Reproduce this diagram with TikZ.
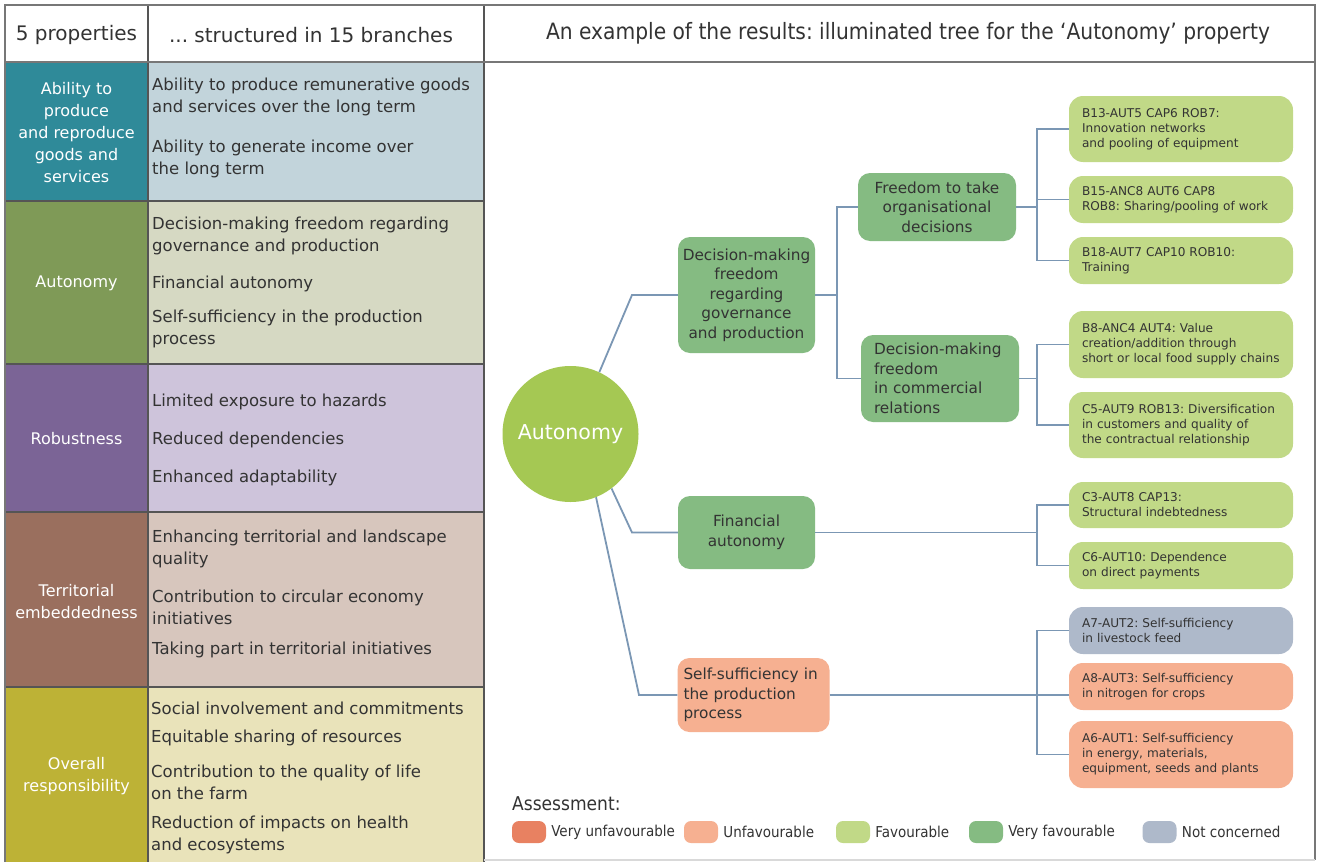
\documentclass[tikz,border=0pt]{standalone}
\usepackage{fontspec}
\setmainfont{DejaVu Sans}
\newfontfamily\condfont{DejaVu Sans Condensed}
\usetikzlibrary{positioning}

\definecolor{linkblue}{HTML}{7B97B4}
\definecolor{circgreen}{HTML}{A5C853}
\definecolor{vfav}{HTML}{85BB82}
\definecolor{fav}{HTML}{C1D987}
\definecolor{unfav}{HTML}{F6B091}
\definecolor{vunfav}{HTML}{E88161}
\definecolor{notcon}{HTML}{AEB9CA}
\definecolor{txtdark}{HTML}{333333}
\definecolor{gridgray}{HTML}{555555}
\definecolor{framegray}{HTML}{777777}
\definecolor{prodA}{HTML}{2F8A99}
\definecolor{prodB}{HTML}{C2D4DB}
\definecolor{autA}{HTML}{7F9A57}
\definecolor{autB}{HTML}{D6D9C3}
\definecolor{robA}{HTML}{7B6496}
\definecolor{robB}{HTML}{CEC4DB}
\definecolor{terA}{HTML}{9A6F5E}
\definecolor{terB}{HTML}{D7C6BD}
\definecolor{respA}{HTML}{BDB236}
\definecolor{respB}{HTML}{E9E3BA}

\tikzset{
  proplabel/.style={text=white, font=\fontsize{16}{22}\selectfont, align=center, inner sep=0pt},
  branchtext/.style={text=txtdark, font=\fontsize{16.5}{22}\selectfont, align=left, anchor=west, inner sep=0pt},
  headtext/.style={text=txtdark, font=\fontsize{20}{24}\selectfont, inner sep=0pt},
  midbox/.style={rounded corners=12pt, text=txtdark, font=\fontsize{15.3}{19.5}\selectfont, inner sep=0pt, align=center},
  leafbox/.style={rounded corners=14pt, fill=fav, text=txtdark, font=\fontsize{12.1}{15}\selectfont, align=left, text width=198pt, inner xsep=13pt, inner ysep=0pt},
  link/.style={draw=linkblue, line width=1.8pt},
  swatch/.style={rounded corners=7pt, minimum width=34pt, minimum height=22pt, inner sep=0pt},
  legtext/.style={font=\condfont\fontsize{15}{18}\selectfont, inner sep=0pt, text=txtdark}
}

\begin{document}
\frenchspacing
\begin{tikzpicture}[x=1pt, y=-1pt]
\useasboundingbox[fill=white] (0,0) rectangle (1317,862);

% table of properties and branches
\fill[prodA] (5,62) rectangle (148,201);
\fill[prodB] (148,62) rectangle (484,201);
\fill[autA] (5,201) rectangle (148,364);
\fill[autB] (148,201) rectangle (484,364);
\fill[robA] (5,364) rectangle (148,512);
\fill[robB] (148,364) rectangle (484,512);
\fill[terA] (5,512) rectangle (148,687);
\fill[terB] (148,512) rectangle (484,687);
\fill[respA] (5,687) rectangle (148,862);
\fill[respB] (148,687) rectangle (484,862);

\foreach \y in {201,364,512,687}
  \draw[gridgray, line width=1.5pt] (5,\y) -- (484,\y);
\draw[gridgray, line width=1.5pt] (148,5) -- (148,862);
\draw[gridgray, line width=1.5pt] (484,5) -- (484,862);
\draw[framegray, line width=1.5pt] (5,862) -- (5,5) -- (1315,5) -- (1315,860);
\draw[framegray, line width=1.5pt] (5,62) -- (1315,62);
\draw[black!15, line width=1.5pt] (484,860) -- (1315,860);

% headers
\node[headtext] (hprop) at (76.5,35) {5 properties};
\node[headtext] (hbranch) at (311,35) {... structured in 15 branches};
\node[headtext, font=\condfont\fontsize{22.5}{26}\selectfont] (htree) at (908,33)
  {An example of the results: illuminated tree for the ‘Autonomy’ property};

% property labels
\node[proplabel] (pprod) at (76.5,132.5) {Ability to\\produce\\and reproduce\\goods and\\services};
\node[proplabel] (paut) at (76.5,283) {Autonomy};
\node[proplabel] (prob) at (76.5,439) {Robustness};
\node[proplabel] (pter) at (76.5,601.5) {Territorial\\embeddedness};
\node[proplabel] (presp) at (76.5,776.5) {Overall\\responsibility};

% branches
\node[branchtext] (br1) at (152,96.5) {Ability to produce remunerative goods\\and services over the long term};
\node[branchtext] (br2) at (152,159) {Ability to generate income over\\the long term};
\node[branchtext] (br3) at (152,236) {Decision-making freedom regarding\\governance and production};
\node[branchtext] (br4) at (152,284) {Financial autonomy};
\node[branchtext] (br5) at (152,329) {Self-sufficiency in the production\\process};
\node[branchtext] (br6) at (152,402) {Limited exposure to hazards};
\node[branchtext] (br7) at (152,440) {Reduced dependencies};
\node[branchtext] (br8) at (152,478) {Enhanced adaptability};
\node[branchtext] (br9) at (152,548.5) {Enhancing territorial and landscape\\quality};
\node[branchtext] (br10) at (152,607.5) {Contribution to circular economy\\initiatives};
\node[branchtext] (br11) at (152,650) {Taking part in territorial initiatives};
\node[branchtext] (br12) at (151,708) {Social involvement and commitments};
\node[branchtext] (br13) at (151,738) {Equitable sharing of resources};
\node[branchtext] (br14) at (151,782.5) {Contribution to the quality of life\\on the farm};
\node[branchtext] (br15) at (151,834.5) {Reduction of impacts on health\\and ecosystems};

% illuminated tree
\node[circle, fill=circgreen, minimum size=136pt, inner sep=0pt, text=white,
      font=\fontsize{20.5}{24}\selectfont] (aut) at (570.5,434) {Autonomy};

\node[midbox, fill=vfav, minimum width=137pt, minimum height=116pt] (dm) at (746.5,295)
  {Decision-making\\freedom\\regarding\\governance\\and production};
\node[midbox, fill=vfav, minimum width=158pt, minimum height=68pt] (ft) at (937,207)
  {Freedom to take\\organisational\\decisions};
\node[midbox, fill=vfav, align=left, text width=132pt, inner xsep=13pt, minimum height=87pt] (dc) at (940,378.5)
  {Decision-making\\freedom\\in commercial\\relations};
\node[midbox, fill=vfav, minimum width=137pt, minimum height=73pt] (fin) at (746.5,532.5)
  {Financial\\autonomy};
\node[midbox, fill=unfav, align=left, text width=140pt, inner xsep=6pt, minimum height=74pt] (ss) at (753.5,695)
  {Self-sufficiency in\\the production\\process};

\node[leafbox, minimum height=66pt] (b13) at (1181,129) {B13-AUT5 CAP6 ROB7:\\Innovation networks\\and pooling of equipment};
\node[leafbox, minimum height=47pt] (b15) at (1181,199.5) {B15-ANC8 AUT6 CAP8\\ROB8: Sharing/pooling of work};
\node[leafbox, minimum height=47pt] (b18) at (1181,260.5) {B18-AUT7 CAP10 ROB10:\\Training};
\node[leafbox, minimum height=67pt] (b8) at (1181,344.5) {B8-ANC4 AUT4: Value\\creation/addition through\\short or local food supply chains};
\node[leafbox, minimum height=66pt] (c5) at (1181,425) {C5-AUT9 ROB13: Diversification\\in customers and quality of\\the contractual relationship};
\node[leafbox, minimum height=46pt] (c3) at (1181,505) {C3-AUT8 CAP13:\\Structural indebtedness};
\node[leafbox, minimum height=47pt] (c6) at (1181,565.5) {C6-AUT10: Dependence\\on direct payments};
\node[leafbox, fill=notcon, minimum height=47pt] (a7) at (1181,630.5) {A7-AUT2: Self-sufficiency\\in livestock feed};
\node[leafbox, fill=unfav, minimum height=47pt] (a8) at (1181,686.5) {A8-AUT3: Self-sufficiency\\in nitrogen for crops};
\node[leafbox, fill=unfav, minimum height=67pt] (a6) at (1181,754.5) {A6-AUT1: Self-sufficiency\\in energy, materials,\\equipment, seeds and plants};

% connectors
\coordinate (jl) at (632,0);
\coordinate (jls) at (639,0);
\coordinate (jm) at (837,0);
\coordinate (jr) at (1037,0);

\draw[link] (aut.65) -- (jl |- dm.west) -- (dm.west);
\draw[link] (aut.-53) -- (jl |- fin.west) -- (fin.west);
\draw[link] (aut.-68) -- (jls |- ss.west) -- (ss.west);

\draw[link] (dm.east) -- (jm |- dm.east);
\foreach \c in {ft,dc}
  \draw[link] (jm |- dm.east) |- (\c.west);

\draw[link] (ft.east) -- (jr |- ft.east);
\foreach \c in {b13,b15,b18}
  \draw[link] (jr |- ft.east) |- (\c.west);
\draw[link] (dc.east) -- (jr |- dc.east);
\foreach \c in {b8,c5}
  \draw[link] (jr |- dc.east) |- (\c.west);
\draw[link] (fin.east) -- (jr |- fin.east);
\foreach \c in {c3,c6}
  \draw[link] (jr |- fin.east) |- (\c.west);
\draw[link] (ss.east) -- (a8.west |- ss.east);
\foreach \c in {a7,a6}
  \draw[link] (jr |- ss.east) |- (\c.west);

% legend
\node[legtext, anchor=west, font=\condfont\fontsize{19}{22}\selectfont] (asmt) at (512,804) {Assessment:};
\foreach \col/\x/\lab [count=\i] in {vunfav/529/Very unfavourable, unfav/701/Unfavourable,
    fav/853/Favourable, vfav/986/Very favourable, notcon/1159.5/Not concerned} {
  \node[swatch, fill=\col] (sw\i) at (\x,832) {};
  \node[legtext, right=5pt of sw\i] (lg\i) {\lab};
}
\end{tikzpicture}
\end{document}
